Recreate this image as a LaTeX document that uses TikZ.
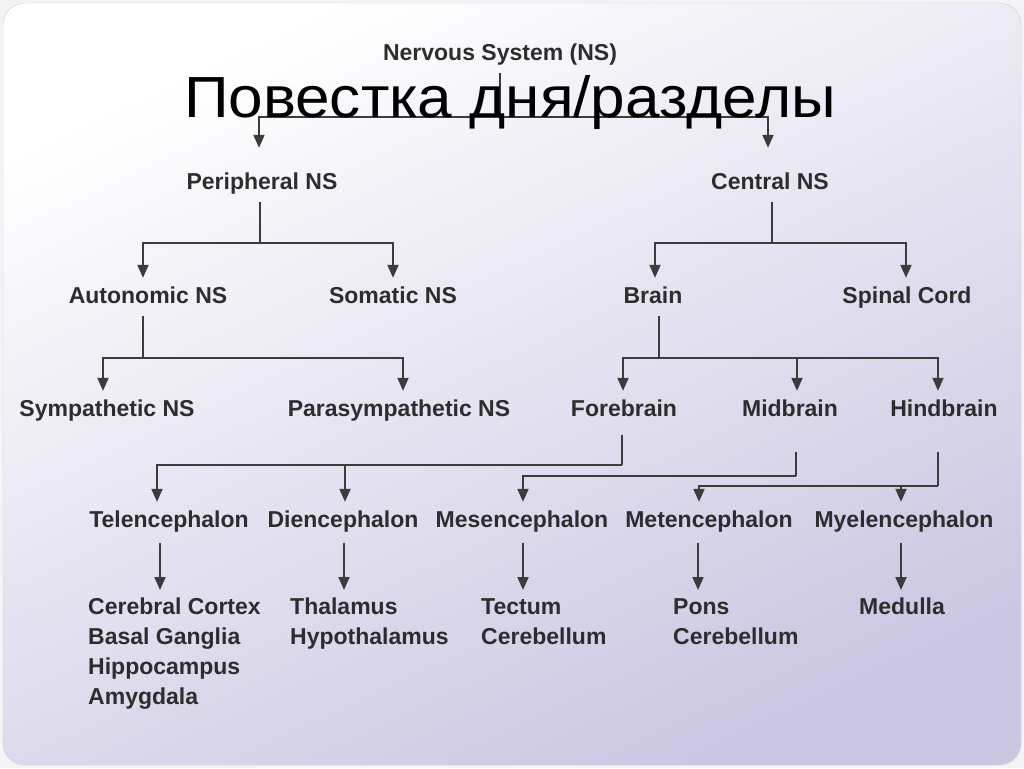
\documentclass[tikz,border=0pt]{standalone}
\usepackage{fontspec}
\setsansfont{Liberation Sans}
\newfontfamily\titlefont[FakeStretch=1.07]{Liberation Sans}
\usetikzlibrary{arrows.meta}
\definecolor{ink}{RGB}{45,45,45}
\definecolor{linegray}{RGB}{60,60,60}
\definecolor{lilac}{RGB}{203,198,226}
\definecolor{pagegray}{RGB}{244,244,246}
\definecolor{framegray}{RGB}{205,205,210}

\begin{document}
\begin{tikzpicture}[x=1pt, y=-1pt,
    lbl/.style={font=\sffamily\bfseries\fontsize{23}{30}\selectfont, text=ink, anchor=base,
        inner xsep=2pt, inner ysep=8pt, text height=17pt, text depth=5pt},
    leaf/.style={font=\sffamily\bfseries\fontsize{23}{30}\selectfont, text=ink, align=left,
        anchor=north west, inner xsep=0pt, inner ysep=8pt},
    ttl/.style={font=\titlefont\fontsize{58}{62}\selectfont, text=black, anchor=base, inner sep=0pt},
    link/.style={draw=linegray, line width=2pt},
    arr/.style={link, -{Triangle[length=13pt, width=11pt]}}
]
    \useasboundingbox (0,0) rectangle (1024,768);
    \fill[pagegray] (0,0) rectangle (1024,768);
    \shadedraw[top color=white, bottom color=lilac, shading angle=25, draw=framegray,
        rounded corners=22pt] (3,3) rectangle (1021,765);

    \node[lbl] (ns) at (500,60) {Nervous System (NS)};
    \node[lbl] (pns) at (262,189) {Peripheral NS};
    \node[lbl] (cns) at (770,189) {Central NS};
    \node[lbl] (ans) at (148,303) {Autonomic NS};
    \node[lbl] (sns) at (393,303) {Somatic NS};
    \node[lbl] (brain) at (653,303) {Brain};
    \node[lbl] (spine) at (907,303) {Spinal Cord};
    \node[lbl] (symp) at (107,416) {Sympathetic NS};
    \node[lbl] (psymp) at (399,416) {Parasympathetic NS};
    \node[lbl] (fore) at (624,416) {Forebrain};
    \node[lbl] (mid) at (790,416) {Midbrain};
    \node[lbl] (hind) at (944,416) {Hindbrain};
    \node[lbl] (tel) at (169,527) {Telencephalon};
    \node[lbl] (di) at (343,527) {Diencephalon};
    \node[lbl] (mes) at (522,527) {Mesencephalon};
    \node[lbl] (met) at (709,527) {Metencephalon};
    \node[lbl] (mye) at (904,527) {Myelencephalon};
    \node[leaf] (telx) at (88,590) {Cerebral Cortex\\Basal Ganglia\\Hippocampus\\Amygdala};
    \node[leaf] (dix) at (290,590) {Thalamus\\Hypothalamus};
    \node[leaf] (mesx) at (481,590) {Tectum\\Cerebellum};
    \node[leaf] (metx) at (673,590) {Pons\\Cerebellum};
    \node[leaf] (myex) at (859,590) {Medulla};

    \draw[link] (ns.south) -- ++(0,44) coordinate (nsbar);
    \draw[arr, shorten >=16pt] (nsbar) -| ([xshift=-3pt]pns.north);
    \draw[arr, shorten >=16pt] (nsbar) -| ([xshift=-2pt]cns.north);

    \draw[link] ([xshift=-2pt]pns.south) -- ++(0,41) coordinate (pnsbar);
    \draw[arr] (pnsbar) -| ([xshift=-5pt]ans.north);
    \draw[arr] (pnsbar) -| (sns.north);
    \draw[link] ([xshift=2pt]cns.south) -- ++(0,41) coordinate (cnsbar);
    \draw[arr] (cnsbar) -| ([xshift=2pt]brain.north);
    \draw[arr] (cnsbar) -| ([xshift=-1pt]spine.north);

    \draw[link] ([xshift=-5pt]ans.south) -- ++(0,42) coordinate (ansbar);
    \draw[arr] (ansbar) -| ([xshift=-4pt]symp.north);
    \draw[arr] (ansbar) -| ([xshift=4pt]psymp.north);
    \draw[link] ([xshift=6pt]brain.south) -- ++(0,42) coordinate (brbar);
    \draw[arr] (brbar) -| ([xshift=-1pt]fore.north);
    \draw[arr] (brbar) -| ([xshift=7pt]mid.north);
    \draw[arr] (brbar) -| ([xshift=-6pt]hind.north);

    \draw[link, shorten <=6pt] ([xshift=-2pt]fore.south) -- ++(0,36) coordinate (fbbar);
    \draw[arr] (fbbar) -| ([xshift=-12pt]tel.north);
    \draw[arr] (fbbar) -| ([xshift=2pt]di.north);
    \draw[link, shorten <=23pt] ([xshift=6pt]mid.south) -- ++(0,47) coordinate (mbbar);
    \draw[arr] (mbbar) -| ([xshift=1pt]mes.north);
    \draw[link, shorten <=23pt] ([xshift=-6pt]hind.south) -- ++(0,57) coordinate (hbbar);
    \draw[arr] (hbbar) -| ([xshift=-10pt]met.north);
    \draw[arr] (hbbar) -| ([xshift=-3pt]mye.north);

    \draw[arr, shorten <=3pt] ([xshift=-9pt]tel.south) -- ([xshift=72pt]telx.north west);
    \draw[arr, shorten <=3pt] ([xshift=1pt]di.south) -- ([xshift=54pt]dix.north west);
    \draw[arr, shorten <=3pt] ([xshift=1pt]mes.south) -- ([xshift=42pt]mesx.north west);
    \draw[arr, shorten <=3pt] ([xshift=-11pt]met.south) -- ([xshift=25pt]metx.north west);
    \draw[arr, shorten <=3pt] ([xshift=-3pt]mye.south) -- ([xshift=42pt]myex.north west);

    \node[ttl] (title) at (510,117) {Повестка дня/разделы};
\end{tikzpicture}
\end{document}
